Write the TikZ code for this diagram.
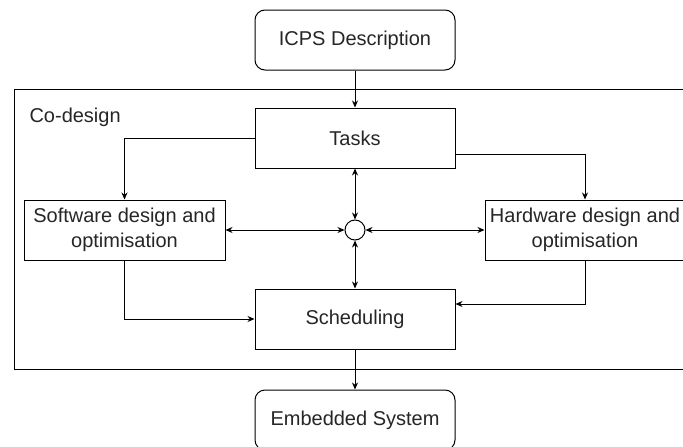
\documentclass[tikz,border=0pt]{standalone}
\usepackage{fontspec}
\setmainfont{Liberation Sans}
\usetikzlibrary{arrows.meta}

\tikzset{
	box/.style={draw=black,line width=1pt,minimum width=200pt,minimum height=60pt,
		inner sep=0pt,align=center,text=black!85,font=\fontsize{20}{25}\selectfont},
	rbox/.style={box,rounded corners=10pt},
	link/.style={line width=1pt,-{Stealth[length=7pt,width=6pt]}},
	both/.style={line width=1pt,{Stealth[length=7pt,width=6pt]}-{Stealth[length=7pt,width=6pt]}}
}

\begin{document}
\begin{tikzpicture}[x=1pt,y=-1pt]

	\clip (0,0) rectangle (683,447);
	\fill[white] (0,0) rectangle (683,447);

	\draw[line width=1pt] (14,89) rectangle (690,369);
	\node[anchor=west,text=black!85,font=\fontsize{20}{25}\selectfont] (cod) at (26,117) {Co-design};

	\node[rbox] (icps) at (355,40) {\raisebox{-2pt}{ICPS Description}};
	\node[box] (tasks) at (355,138) {\raisebox{-2pt}{Tasks}};
	\node[box,minimum width=201pt] (sw) at (124.5,230) {Software design and\\optimisation};
	\node[box] (hw) at (585,230) {Hardware design and\\optimisation};
	\node[draw,line width=1pt,circle,minimum size=20pt,inner sep=0pt] (mid) at (355,230) {};
	\node[box] (sched) at (355,319) {\raisebox{-2pt}{Scheduling}};
	\node[rbox] (emb) at (355,420) {\raisebox{-2pt}{Embedded System}};

	\draw[link] (icps) -- (tasks);
	\draw[link] (tasks.west) -| (sw.north);
	\draw[link] ([yshift=-16pt]tasks.east) -| (hw.north);

	\draw[both] (tasks) -- (mid);
	\draw[both] (sw) -- (mid);
	\draw[both] (mid) -- (hw);
	\draw[both] (mid) -- (sched);

	\draw[link] (sw.south) |- (sched.west);
	\draw[link] (hw.south) |- ([yshift=15pt]sched.east);
	\draw[link] (sched) -- (emb);

\end{tikzpicture}
\end{document}
